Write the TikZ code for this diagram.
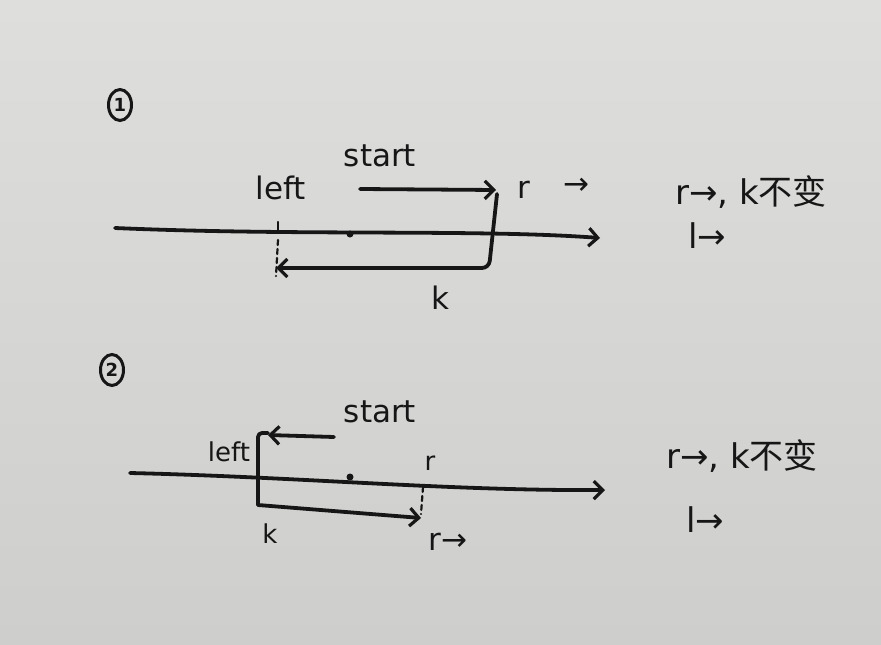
\documentclass[tikz,border=0pt]{standalone}
\usepackage{fontspec}
\setmainfont{DejaVu Sans}
\newfontfamily\cjk{Noto Sans CJK SC}
\usetikzlibrary{arrows.meta,shapes.geometric}
\definecolor{paperT}{RGB}{222,223,221}
\definecolor{paperB}{RGB}{206,207,204}
\definecolor{ink}{RGB}{22,22,22}
\begin{document}
\begin{tikzpicture}[x=1pt,y=-1pt,
  pen/.style={line width=3.8pt, draw=ink, line cap=round, line join=round},
  tip/.style={-{Straight Barb[length=9pt,width=18pt,line width=3.2pt]}},
  lbl/.style={font=\fontsize{31}{33}\selectfont, text=ink, inner sep=0pt},
  big/.style={font=\fontsize{34}{36}\selectfont, text=ink, inner sep=0pt},
  small/.style={font=\fontsize{26}{28}\selectfont, text=ink, inner sep=0pt},
  num/.style={draw=ink, line width=3pt, ellipse, inner sep=0pt, minimum width=23pt, minimum height=31pt, font=\fontsize{18}{18}\selectfont\bfseries, text=ink},
  pt/.style={circle, fill=ink, inner sep=0pt, minimum size=7pt}]
\shade[top color=paperT, bottom color=paperB] (0,0) rectangle (881,645);
\useasboundingbox (0,0) rectangle (881,645);

% ---------- diagram 1 ----------
\node[num] (n1) at (120,105) {1};
\coordinate (m1s) at (115,228);
\coordinate (m1e) at (600,238);
\draw[pen,tip] (m1s) .. controls (300,236) and (480,229) .. (m1e);
\coordinate (t1a) at (278,222);
\coordinate (t1b) at (278,232);
\draw[pen,line width=2.4pt] (t1a) -- (t1b);
\node[pt] (d1) at (350,234) {};
\node[lbl] (left1) at (281,188) {left};
\node[lbl] (start1) at (380,156) {start};
\coordinate (s1a) at (360,189);
\coordinate (s1b) at (496,190);
\draw[pen,tip] (s1a) -- (s1b);
\coordinate (c1a) at (497,194);
\coordinate (c1b) at (489,268);
\coordinate (l1e) at (276,268);
\draw[pen,tip,rounded corners=7pt] (c1a) -- (c1b) -- (l1e);
\coordinate (dd1a) at (278,240);
\coordinate (dd1b) at (276,276);
\draw[pen,line width=2.2pt,dashed,dash pattern=on 5pt off 4pt] (dd1a) -- (dd1b);
\node[lbl] (r1) at (524,190) {r};
\node[lbl] (ra1) at (576,186) {→};
\node[lbl] (k1) at (440,298) {k};
\node[big,anchor=west] (rule1a) at (675,192) {r→, k{\cjk 不变}};
\node[big,anchor=west] (rule1b) at (688,236) {l→};

% ---------- diagram 2 ----------
\node[num] (n2) at (112,370) {2};
\coordinate (m2s) at (130,473);
\coordinate (m2e) at (605,490);
\draw[pen,tip] (m2s) .. controls (300,477) and (450,491) .. (m2e);
\node[pt] (d2) at (350,477) {};
\node[lbl] (start2) at (380,412) {start};
\coordinate (s2a) at (334,437);
\coordinate (s2b) at (268,435);
\draw[pen,tip] (s2a) -- (s2b);
\coordinate (c2a) at (268,433);
\coordinate (c2b) at (258,433);
\coordinate (c2c) at (258,505);
\coordinate (r2e) at (421,518);
\draw[pen,rounded corners=4pt] (c2a) -- (c2b) -- (c2c);
\draw[pen,tip] (c2c) -- (r2e);
\node[small] (left2) at (229,452) {left};
\node[small] (r2) at (430,463) {r};
\coordinate (dd2a) at (423,487);
\coordinate (dd2b) at (421,514);
\draw[pen,line width=2.2pt,dashed,dash pattern=on 5pt off 4pt] (dd2a) -- (dd2b);
\node[small] (k2) at (270,534) {k};
\node[lbl] (ra2) at (448,542) {r→};
\node[big,anchor=west] (rule2a) at (666,456) {r→, k{\cjk 不变}};
\node[big,anchor=west] (rule2b) at (686,520) {l→};
\end{tikzpicture}
\end{document}
